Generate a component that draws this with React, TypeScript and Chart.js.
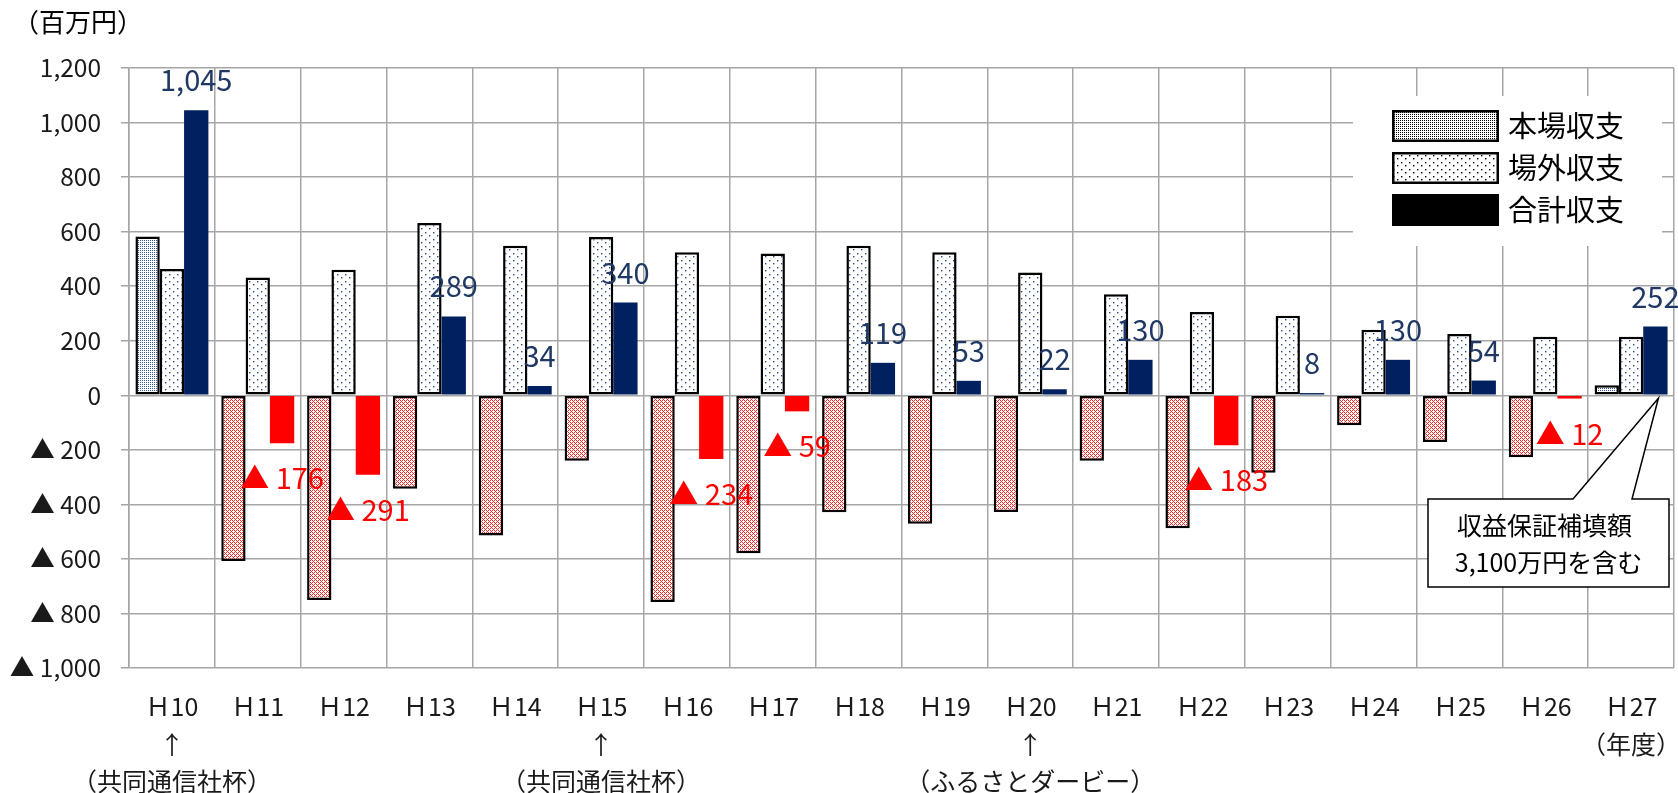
import React, { useEffect, useRef } from "react";
import { Chart, registerables } from "chart.js";

Chart.register(...registerables);

const categories = ["Ｈ10", "Ｈ11", "Ｈ12", "Ｈ13", "Ｈ14", "Ｈ15", "Ｈ16", "Ｈ17", "Ｈ18", "Ｈ19", "Ｈ20", "Ｈ21", "Ｈ22", "Ｈ23", "Ｈ24", "Ｈ25", "Ｈ26", "Ｈ27"];
const categoryNotes: string[][] = [
  ["↑", "（共同通信社杯）"], [], [], [], [],
  ["↑", "（共同通信社杯）"], [], [], [], [],
  ["↑", "（ふるさとダービー）"], [], [], [], [], [], [],
  ["（年度）"],
];
const honjoValues = [582, -608, -751, -343, -514, -240, -758, -579, -429, -471, -428, -240, -488, -284, -110, -171, -227, 37];
const joogaiValues = [463, 432, 460, 632, 548, 580, 524, 520, 548, 524, 450, 370, 305, 292, 240, 225, 215, 215];
const totalValues = [1045, -176, -291, 289, 34, 340, -234, -59, 119, 53, 22, 130, -183, 8, 130, 54, -12, 252];
const seriesNames = ["本場収支", "場外収支", "合計収支"];
const yTicks = { min: -1000, max: 1200, step: 200 };
const unitLabel = "（百万円）";
const calloutLines = ["収益保証補填額", "3,100万円を含む"];

const FONT = "'Noto Sans CJK JP', 'Noto Sans', sans-serif";
const NAVY = "#002060";
const NAVY_TEXT = "#1F3864";
const RED = "#FF0000";

function fmt(v: number): string {
  const a = Math.abs(v).toLocaleString("en-US");
  return v < 0 ? "▲ " + a : a;
}

function makePattern(
  ctx: CanvasRenderingContext2D,
  w: number,
  h: number,
  dots: [number, number][],
  color: string,
  dot = 1
): CanvasPattern {
  const c = document.createElement("canvas");
  c.width = w;
  c.height = h;
  const g = c.getContext("2d")!;
  g.fillStyle = "#ffffff";
  g.fillRect(0, 0, w, h);
  g.fillStyle = color;
  dots.forEach(([x, y]) => g.fillRect(x, y, dot, dot));
  return ctx.createPattern(c, "repeat")!;
}

export default function App() {
  const ref = useRef<HTMLCanvasElement>(null);

  useEffect(() => {
    const canvas = ref.current!;
    const ctx = canvas.getContext("2d")!;
    const dense: [number, number][] = [[0, 0], [2, 0], [0, 2], [2, 2]];
    const denser: [number, number][] = [[0, 0], [2, 0], [0, 2], [2, 2], [1, 1], [3, 3]];
    const sparse: [number, number][] = [[1, 1], [5, 4]];
    const honjoPos = makePattern(ctx, 4, 4, dense, "#3a5694");
    const honjoNeg = makePattern(ctx, 4, 4, denser, "#ff2a2a");
    const joogaiPat = makePattern(ctx, 8, 7, sparse, "#2c4a86", 1.4);
    const legendHonjo = makePattern(ctx, 4, 4, dense, "#000000");
    const legendJoogai = makePattern(ctx, 8, 7, sparse, "#000000", 1.4);

    const labels = categories.map((c, i) => [c, ...categoryNotes[i]]);

    const custom = {
      id: "custom",
      afterDatasetsDraw(chart: any) {
        const c = chart.ctx;
        const meta = chart.getDatasetMeta(2);
        c.save();
        c.font = `29px ${FONT}`;
        c.textAlign = "center";
        c.textBaseline = "middle";
        meta.data.forEach((el: any, i: number) => {
          const v = totalValues[i];
          if (v >= 0) {
            c.fillStyle = NAVY_TEXT;
            c.fillText(fmt(v), el.x, el.y - 30);
          } else {
            c.fillStyle = RED;
            c.fillText(fmt(v), el.x, el.y + 35);
          }
        });
        c.restore();
      },
      afterDraw(chart: any) {
        const c = chart.ctx;
        const area = chart.chartArea;
        c.save();
        // unit
        c.font = `26px ${FONT}`;
        c.fillStyle = "#000";
        c.textAlign = "left";
        c.textBaseline = "middle";
        c.fillText(unitLabel, 13, 22);

        // legend
        const lx = area.right - 321;
        const ly = area.top + 28;
        c.fillStyle = "#ffffff";
        c.fillRect(lx, ly, 309, 150);
        const fills = [legendHonjo, legendJoogai, "#000000"];
        fills.forEach((f: any, i: number) => {
          const sx = lx + 39;
          const sy = ly + 14 + i * 42;
          c.fillStyle = f;
          c.fillRect(sx, sy, 107, 32);
          if (i < 2) {
            c.strokeStyle = "#000";
            c.lineWidth = 2.5;
            c.strokeRect(sx + 1.25, sy + 1.25, 104.5, 29.5);
          }
          c.fillStyle = "#000";
          c.font = `29px ${FONT}`;
          c.textAlign = "left";
          c.textBaseline = "middle";
          c.fillText(seriesNames[i], sx + 116, sy + 16);
        });

        // callout
        const last = categories.length - 1;
        const el = chart.getDatasetMeta(2).data[last];
        const tipX = el.x + 3;
        const tipY = chart.scales.y.getPixelForValue(0) + 3;
        const bx = area.right - 246;
        const by = area.top + 431;
        const bw = 241;
        const bh = 88;
        c.beginPath();
        c.moveTo(bx, by);
        c.lineTo(bx + 145, by);
        c.lineTo(tipX, tipY);
        c.lineTo(bx + 204, by);
        c.lineTo(bx + bw, by);
        c.lineTo(bx + bw, by + bh);
        c.lineTo(bx, by + bh);
        c.closePath();
        c.fillStyle = "#fff";
        c.fill();
        c.strokeStyle = "#000";
        c.lineWidth = 1.5;
        c.stroke();
        c.fillStyle = "#000";
        c.font = `25px ${FONT}`;
        c.textAlign = "center";
        c.fillText(calloutLines[0], bx + bw / 2 - 4, by + 26);
        c.fillText(calloutLines[1], bx + bw / 2, by + 63);
        c.restore();
      },
    };

    const chart = new Chart(canvas, {
      type: "bar",
      data: {
        labels,
        datasets: [
          {
            label: seriesNames[0],
            data: honjoValues,
            backgroundColor: (cx: any) => (honjoValues[cx.dataIndex] < 0 ? honjoNeg : honjoPos),
            borderColor: "#000",
            borderWidth: 2.5,
            borderSkipped: false,
          },
          {
            label: seriesNames[1],
            data: joogaiValues,
            backgroundColor: joogaiPat,
            borderColor: "#000",
            borderWidth: 2.5,
            borderSkipped: false,
          },
          {
            label: seriesNames[2],
            data: totalValues,
            backgroundColor: (cx: any) => (totalValues[cx.dataIndex] < 0 ? RED : NAVY),
            borderWidth: 0,
          },
        ],
      } as any,
      options: {
        animation: false,
        responsive: false,
        devicePixelRatio: 1,
        layout: { padding: { top: 68, right: 4, left: 0, bottom: 0 } },
        datasets: { bar: { categoryPercentage: 0.85, barPercentage: 1.0 } },
        plugins: { legend: { display: false }, tooltip: { enabled: false }, title: { display: false } },
        scales: {
          x: {
            offset: true,
            grid: { color: "#a6a6a6", lineWidth: 1.5, offset: true, drawTicks: false },
            border: { display: false },
            ticks: {
              autoSkip: false,
              maxRotation: 0,
              minRotation: 0,
              padding: 20,
              color: "#1a1a1a",
              font: { family: FONT, size: 25, lineHeight: 1.5 },
            },
            afterFit: (s: any) => {
              s.height = 125;
              s.paddingLeft = 0;
              s.paddingRight = 0;
            },
          },
          y: {
            min: yTicks.min,
            max: yTicks.max,
            ticks: {
              stepSize: yTicks.step,
              padding: 20,
              color: "#1a1a1a",
              font: { family: FONT, size: 24.5 },
              callback: (v: any) => fmt(Number(v)),
            },
            grid: { color: "#a6a6a6", lineWidth: 1.5, tickLength: 8, drawTicks: true },
            border: { display: true, color: "#a6a6a6", width: 1.5 },
            afterFit: (s: any) => {
              s.width = 129;
            },
          },
        },
      } as any,
      plugins: [custom],
    });
    return () => chart.destroy();
  }, []);

  return (
    <div style={{ position: "fixed", left: 0, top: 0, width: 1678, height: 793, background: "#fff" }}>
      <canvas ref={ref} width={1678} height={793} style={{ width: 1678, height: 793, display: "block" }} />
    </div>
  );
}
